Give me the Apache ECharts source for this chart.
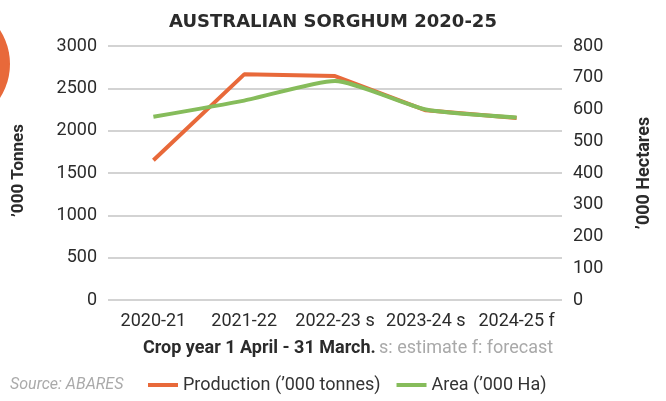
<!DOCTYPE html>
<html>
<head>
<meta charset="utf-8">
<script src="https://cdn.jsdelivr.net/npm/echarts@6/dist/echarts.min.js"></script>
<style>
  html, body { margin: 0; padding: 0; background: #fff; }
  #myChart { width: 666px; height: 401px; }
</style>
</head>
<body>
<div id="myChart"></div>
<script>
// 数据
const categories = ['2020-21', '2021-22', '2022-23 s', '2023-24 s', '2024-25 f'];
const production = [1650, 2665, 2645, 2240, 2150];   // '000 tonnes, left axis
const area = [577, 628, 690, 600, 575];              // '000 Ha, right axis
const leftTicks = {min: 0, max: 3000, interval: 500};
const rightTicks = {min: 0, max: 800, interval: 100};

const font = 'Roboto';
const orange = '#E8693A';
const green = '#86BC5B';

let myChart = echarts.init(document.getElementById('myChart'));

let option = {
    animation: false,
    textStyle: {fontFamily: font},
    title: {
        text: 'AUSTRALIAN SORGHUM 2020-25',
        left: 'center',
        top: 8,
        textStyle: {fontFamily: 'DejaVu Sans', fontWeight: 'bold', fontSize: 18, color: '#2b2b2b'}
    },
    grid: {left: 108, right: 104, top: 46, bottom: 101},
    legend: {
        bottom: 2,
        left: 143,
        itemWidth: 30,
        itemHeight: 4,
        itemGap: 16,
        icon: 'rect',
        textStyle: {fontFamily: font, fontSize: 18, color: '#333'},
        data: ['Production (\u2019000 tonnes)', 'Area (\u2019000 Ha)']
    },
    xAxis: {
        type: 'category',
        data: categories,
        axisLine: {show: false},
        axisTick: {show: false},
        axisLabel: {fontSize: 18, color: '#2b2b2b', margin: 12, interval: 0}
    },
    yAxis: [{
        type: 'value',
        ...leftTicks,
        name: '\u2019000 Tonnes',
        nameLocation: 'middle',
        nameGap: 81,
        nameRotate: 90,
        nameTextStyle: {fontFamily: font, fontWeight: 'bold', fontSize: 17, color: '#2b2b2b', padding: [0, 0, 0, 5]},
        axisLabel: {fontSize: 18, color: '#2b2b2b', margin: 11, formatter: v => String(v)},
        splitLine: {lineStyle: {color: '#c4c4c4', width: 1.5}}
    }, {
        type: 'value',
        ...rightTicks,
        position: 'right',
        name: '\u2019000 Hectares',
        nameLocation: 'middle',
        nameGap: 73,
        nameRotate: 90,
        nameTextStyle: {fontFamily: font, fontWeight: 'bold', fontSize: 18, color: '#2b2b2b'},
        axisLabel: {fontSize: 18, color: '#2b2b2b', margin: 11, formatter: v => String(v)},
        splitLine: {show: false}
    }],
    graphic: [{
        type: 'circle',
        shape: {cx: -53, cy: 64, r: 63},
        style: {fill: orange},
        silent: true
    }, {
        type: 'text',
        left: 10,
        top: 377,
        style: {text: 'Source: ABARES', font: 'italic 16px ' + font, fill: '#aaaaaa'}
    }, {
        type: 'text',
        left: 143,
        top: 339,
        style: {
            text: '{a|Crop year 1 April - 31 March.} {b|s: estimate f: forecast}',
            rich: {
                a: {fontFamily: font, fontWeight: 'bold', fontSize: 18, fill: '#2b2b2b'},
                b: {fontFamily: font, fontSize: 18, fill: '#a9a9a9'}
            }
        }
    }],
    series: [{
        name: 'Production (\u2019000 tonnes)',
        type: 'line',
        yAxisIndex: 0,
        data: production,
        symbol: 'none',
        color: orange,
        lineStyle: {width: 4, color: orange}
    }, {
        name: 'Area (\u2019000 Ha)',
        type: 'line',
        yAxisIndex: 1,
        data: area,
        symbol: 'none',
        smooth: 0.2,
        color: green,
        lineStyle: {width: 4, color: green}
    }]
};

myChart.setOption(option);
</script>
</body>
</html>
